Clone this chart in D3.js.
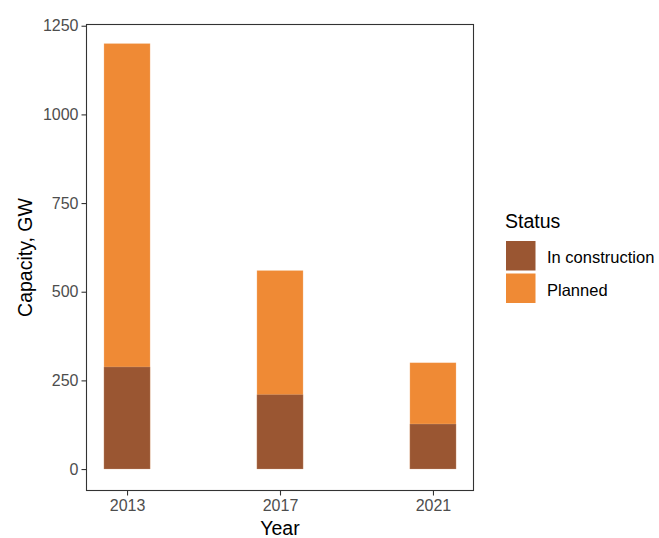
<!DOCTYPE html>
<html>
<head>
<meta charset="utf-8">
<script src="https://cdn.jsdelivr.net/npm/d3@7"></script>
<style>
  html, body { margin: 0; padding: 0; background: #fff; }
  svg { display: block; font-family: "Liberation Sans", Arial, Helvetica, sans-serif; }
</style>
</head>
<body>
<svg id="chart" width="659" height="538"></svg>
<script>
// ---- data ----
const years = [2013, 2017, 2021];
const planned = [1200, 560, 300];        // total planned capacity (GW)
const inConstruction = [288, 210, 127];  // in construction (GW)
const yTicks = [0, 250, 500, 750, 1000, 1250];
const statusLabels = ["In construction", "Planned"];
const statusColors = ["#9a5632", "#ef8a35"];

// ---- layout ----
const svg = d3.select("#chart");
const panel = { left: 86.5, right: 473.5, top: 24.5, bottom: 490.5 };

const x = d3.scaleLinear().domain([2011.94, 2022.06]).range([panel.left, panel.right]);
const y = d3.scaleLinear().domain([-60.5, 1253.5]).range([panel.bottom, panel.top]);
const barW = 1.21; // in years

const g = svg.append("g");

// bars: planned (drawn from 0), in construction overlaid
const rows = years.map((yr, i) => ({ yr, planned: planned[i], cons: inConstruction[i] }));

g.selectAll("rect.planned").data(rows).enter().append("rect")
  .attr("class", "planned")
  .attr("x", d => x(d.yr - barW / 2))
  .attr("width", d => x(d.yr + barW / 2) - x(d.yr - barW / 2))
  .attr("y", d => y(d.planned))
  .attr("height", d => y(0) - y(d.planned))
  .attr("fill", statusColors[1])
  .attr("stroke", "#fff").attr("stroke-opacity", 0.25).attr("stroke-width", 0.8);

g.selectAll("rect.cons").data(rows).enter().append("rect")
  .attr("class", "cons")
  .attr("x", d => x(d.yr - barW / 2))
  .attr("width", d => x(d.yr + barW / 2) - x(d.yr - barW / 2))
  .attr("y", d => y(d.cons))
  .attr("height", d => y(0) - y(d.cons))
  .attr("fill", statusColors[0])
  .attr("stroke", "#fff").attr("stroke-opacity", 0.2).attr("stroke-width", 0.8);

// panel border
g.append("rect")
  .attr("x", panel.left).attr("y", panel.top)
  .attr("width", panel.right - panel.left).attr("height", panel.bottom - panel.top)
  .attr("fill", "none").attr("stroke", "#333").attr("stroke-width", 1.1);

// axes
const yAxis = d3.axisLeft(y).tickValues(yTicks).tickSize(5).tickPadding(3).tickFormat(d3.format("d"));
const yg = svg.append("g").attr("transform", `translate(${panel.left},0)`).call(yAxis);
yg.select(".domain").remove();
yg.selectAll(".tick line").attr("stroke", "#333").attr("stroke-width", 1.1);
yg.selectAll(".tick text").attr("fill", "#4d4d4d").style("font-size", "16px")
  .style("font-family", "Liberation Sans, Arial, sans-serif");

const xAxis = d3.axisBottom(x).tickValues(years).tickSize(5).tickPadding(4).tickFormat(d3.format("d"));
const xg = svg.append("g").attr("transform", `translate(0,${panel.bottom})`).call(xAxis);
xg.select(".domain").remove();
xg.selectAll(".tick line").attr("stroke", "#333").attr("stroke-width", 1.1);
xg.selectAll(".tick text").attr("fill", "#4d4d4d").style("font-size", "16px")
  .style("font-family", "Liberation Sans, Arial, sans-serif");

// axis titles
svg.append("text")
  .attr("x", (panel.left + panel.right) / 2).attr("y", 535)
  .attr("text-anchor", "middle").attr("fill", "#000")
  .style("font-size", "19.5px").text("Year");

svg.append("text")
  .attr("transform", `translate(32,${(panel.top + panel.bottom) / 2}) rotate(-90)`)
  .attr("text-anchor", "middle").attr("fill", "#000")
  .style("font-size", "19.5px").text("Capacity, GW");

// legend
const lg = svg.append("g");
lg.append("text").attr("x", 505).attr("y", 227.5).attr("fill", "#000")
  .style("font-size", "19.5px").text("Status");
statusLabels.forEach((lab, i) => {
  const top = 241 + i * 32.5;
  lg.append("rect").attr("x", 506).attr("y", top).attr("width", 29.5).attr("height", 29.5)
    .attr("fill", statusColors[i]);
  lg.append("text").attr("x", 547).attr("y", top + 22).attr("fill", "#000")
    .style("font-size", "16.5px").text(lab);
});
</script>
</body>
</html>
